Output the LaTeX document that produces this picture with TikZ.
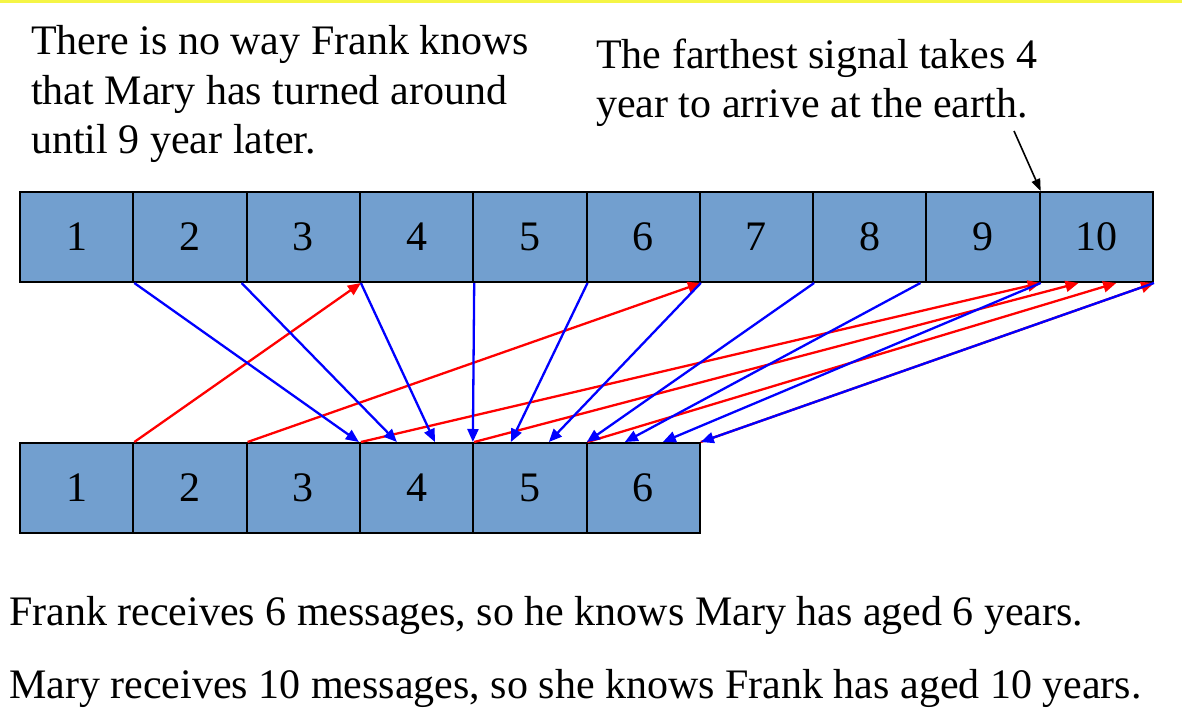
\documentclass[tikz,border=0pt]{standalone}
\usepackage{fontspec}
\setmainfont{Liberation Serif}
\usetikzlibrary{arrows.meta,calc}
\definecolor{boxblue}{RGB}{114,159,207}
\definecolor{topyellow}{RGB}{245,245,70}
\tikzset{
  cell/.style={draw=black,line width=2pt,fill=boxblue,minimum width=113.3pt,minimum height=90pt,inner sep=0pt,font=\fontsize{42}{49.5}\selectfont},
  para/.style={inner sep=0pt,align=left,font=\fontsize{42}{49.5}\selectfont},
  bluesig/.style={draw=blue,line width=2.3pt,-{Triangle[length=13pt,width=11pt]}},
  redsig/.style={draw=red,line width=2.3pt,-{Triangle[length=13pt,width=11pt]}},
  callout/.style={draw=black,line width=1.6pt,-{Triangle[length=12pt,width=9pt]}}
}
\begin{document}
\begin{tikzpicture}[x=1pt,y=-1pt]
\useasboundingbox (0,0) rectangle (1182,720);
\fill[topyellow] (0,0) rectangle (1182,3);
% top row
\foreach \i in {1,...,10}{
  \node[cell] (t\i) at ({20+113.3*(\i-0.5)},237) {\i};
}
% bottom row
\foreach \i in {1,...,6}{
  \node[cell] (b\i) at ({20+113.3*(\i-0.5)},488) {\i};
}
% red signals (bottom to top)
\draw[redsig] (b1.north east) -- (t3.south east);
\draw[redsig] (b2.north east) -- (t6.south east);
\draw[redsig] (b3.north east) -- (t9.south east);
\draw[redsig] (b4.north east) -- ($(t9.south east)!1/3!(t10.south east)$);
\draw[redsig] (b5.north east) -- ($(t9.south east)!2/3!(t10.south east)$);
\draw[redsig] (b6.north east) -- (t10.south east);
% blue signals (top to bottom)
\draw[bluesig] (t1.south east) -- ($(b4.north west)!0/9!(b6.north east)$);
\draw[bluesig] ([xshift=-6pt]t2.south east) -- ($(b4.north west)!1/9!(b6.north east)$);
\draw[bluesig] (t3.south east) -- ($(b4.north west)!2/9!(b6.north east)$);
\draw[bluesig] (t4.south east) -- ($(b4.north west)!3/9!(b6.north east)$);
\draw[bluesig] (t5.south east) -- ($(b4.north west)!4/9!(b6.north east)$);
\draw[bluesig] (t6.south east) -- ($(b4.north west)!5/9!(b6.north east)$);
\draw[bluesig] (t7.south east) -- ($(b4.north west)!6/9!(b6.north east)$);
\draw[bluesig] ([xshift=-7pt]t8.south east) -- ($(b4.north west)!7/9!(b6.north east)$);
\draw[bluesig] (t9.south east) -- ($(b4.north west)!8/9!(b6.north east)$);
\draw[bluesig] (t10.south east) -- ($(b4.north west)!9/9!(b6.north east)$);
% texts
\node[para,anchor=north west] (noway) at (31,25.4) {There is no way Frank knows\\that Mary has turned around\\until 9 year later.};
\node[para,anchor=north west] (farthest) at (596,38.4) {The farthest signal takes 4\\year to arrive at the earth.};
\coordinate (calloutstart) at (1014,131);
\draw[callout] (calloutstart) -- (t9.north east);
\node[para,anchor=base west] (frank) at (9,625) {Frank receives 6 messages, so he knows Mary has aged 6 years.};
\node[para,anchor=base west] (mary) at (9,698) {Mary receives 10 messages, so she knows Frank has aged 10 years.};
\end{tikzpicture}
\end{document}
